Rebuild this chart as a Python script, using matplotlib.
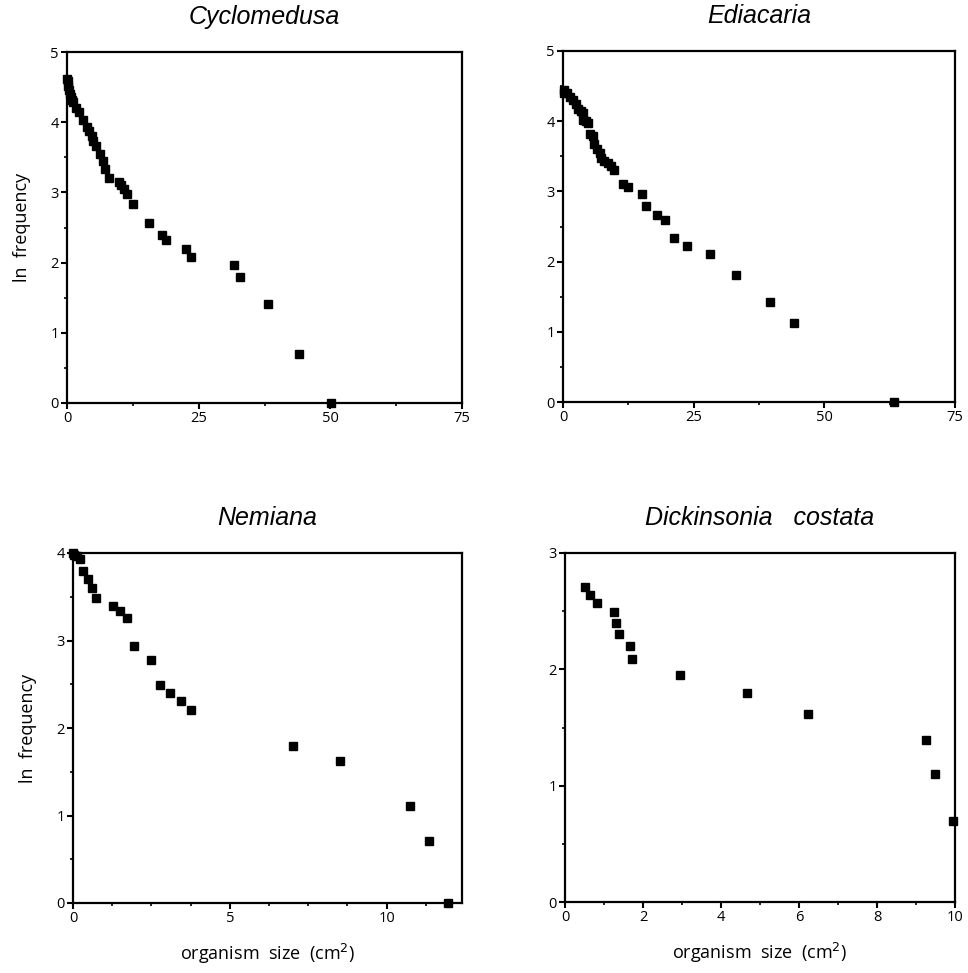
#!/usr/bin/env python3
import matplotlib
matplotlib.use('Agg')
import matplotlib.pyplot as plt
from matplotlib.ticker import MultipleLocator

# Cyclomedusa
cyc_size = [0.0, 0.1, 0.2, 0.3, 0.5, 0.7, 0.9, 1.2, 1.8, 2.3, 3.1, 3.8, 4.2, 4.7, 5.0, 5.6,
            6.3, 6.8, 7.3, 8.0, 9.8, 10.3, 10.8, 11.4, 12.6, 15.6, 18.0, 18.8, 22.6, 23.5,
            31.8, 32.9, 38.2, 44.0, 50.1]
cyc_lnf = [4.62, 4.58, 4.52, 4.46, 4.40, 4.36, 4.32, 4.29, 4.20, 4.14, 4.03, 3.93, 3.87, 3.80,
           3.73, 3.66, 3.54, 3.45, 3.34, 3.20, 3.15, 3.11, 3.05, 2.98, 2.84, 2.57, 2.40, 2.32,
           2.20, 2.08, 1.97, 1.80, 1.41, 0.70, 0.0]

# Ediacaria
edi_size = [0.1, 0.2, 0.7, 1.3, 1.9, 2.4, 2.9, 3.5, 3.8, 3.8, 4.4, 4.8, 5.1, 5.7, 6.0, 6.5,
            7.0, 7.3, 7.9, 8.6, 9.1, 9.7, 11.5, 12.4, 15.2, 15.8, 18.0, 19.6, 21.2, 23.7,
            28.1, 33.1, 39.6, 44.2, 63.4]
edi_lnf = [4.44, 4.40, 4.40, 4.35, 4.30, 4.25, 4.18, 4.15, 4.11, 4.02, 4.00, 3.97, 3.82, 3.79,
           3.68, 3.61, 3.54, 3.47, 3.43, 3.40, 3.36, 3.31, 3.11, 3.06, 2.96, 2.79, 2.66, 2.59,
           2.33, 2.22, 2.11, 1.81, 1.42, 1.13, 0.0]

# Nemiana
nem_size = [0.0, 0.04, 0.14, 0.23, 0.33, 0.47, 0.6, 0.72, 1.26, 1.49, 1.71, 1.94, 2.49, 2.78,
            3.1, 3.44, 3.77, 7.0, 8.5, 10.73, 11.35, 11.96]
nem_lnf = [4.0, 3.98, 3.97, 3.93, 3.80, 3.70, 3.60, 3.49, 3.40, 3.34, 3.26, 2.94, 2.78, 2.49,
           2.40, 2.31, 2.21, 1.79, 1.62, 1.11, 0.71, 0.0]

# Dickinsonia costata
dic_size = [0.5, 0.64, 0.83, 1.26, 1.3, 1.38, 1.66, 1.73, 2.94, 4.66, 6.23, 9.25, 9.49, 9.96]
dic_lnf = [2.71, 2.64, 2.57, 2.49, 2.40, 2.30, 2.20, 2.09, 1.95, 1.80, 1.62, 1.39, 1.10, 0.70]

W, H = 968, 973


def box(l, r, t, b):
    # pixel box -> figure fraction
    return [l / W, 1 - b / H, (r - l) / W, (b - t) / H]


def panel(fig, rect, x, y, title, xmax, ymax, xmaj, xmin):
    ax = fig.add_axes(rect)
    ax.plot(x, y, 's', color='black', ms=5.5, clip_on=False, zorder=5)
    ax.set_xlim(0, xmax)
    ax.set_ylim(0, ymax)
    ax.xaxis.set_major_locator(MultipleLocator(xmaj))
    ax.xaxis.set_minor_locator(MultipleLocator(xmin))
    ax.yaxis.set_major_locator(MultipleLocator(1))
    ax.yaxis.set_minor_locator(MultipleLocator(0.5))
    for s in ax.spines.values():
        s.set_linewidth(1.6)
    ax.tick_params(which='major', direction='out', length=4, width=1.5, pad=2, labelsize=10.5)
    ax.tick_params(which='minor', direction='out', length=2.5, width=1.2)
    ax.set_title(title, fontsize=18, style='italic', family='Liberation Sans', pad=20)
    return ax


def main():
    plt.rcParams['font.family'] = ['Open Sans', 'DejaVu Sans']
    fig = plt.figure(figsize=(W / 100, H / 100), dpi=100)

    ax1 = panel(fig, box(67, 462, 52, 403), cyc_size, cyc_lnf, 'Cyclomedusa', 75, 5, 25, 12.5)
    ax2 = panel(fig, box(563, 955, 51, 402), edi_size, edi_lnf, 'Ediacaria', 75, 5, 25, 12.5)
    ax3 = panel(fig, box(73, 462, 553, 903), nem_size, nem_lnf, 'Nemiana', 12.4, 4, 5, 1.25)
    ax4 = panel(fig, box(565, 955, 553, 902), dic_size, dic_lnf,
                'Dickinsonia   costata', 10, 3, 2, 1)

    for ax in (ax1, ax3):
        ax.set_ylabel('ln  frequency', fontsize=13, labelpad=14)
    for ax in (ax3, ax4):
        ax.set_xlabel('organism  size  (cm$^2$)', fontsize=13, labelpad=11)

    fig.savefig('out.png', dpi=100)


if __name__ == '__main__':
    main()
